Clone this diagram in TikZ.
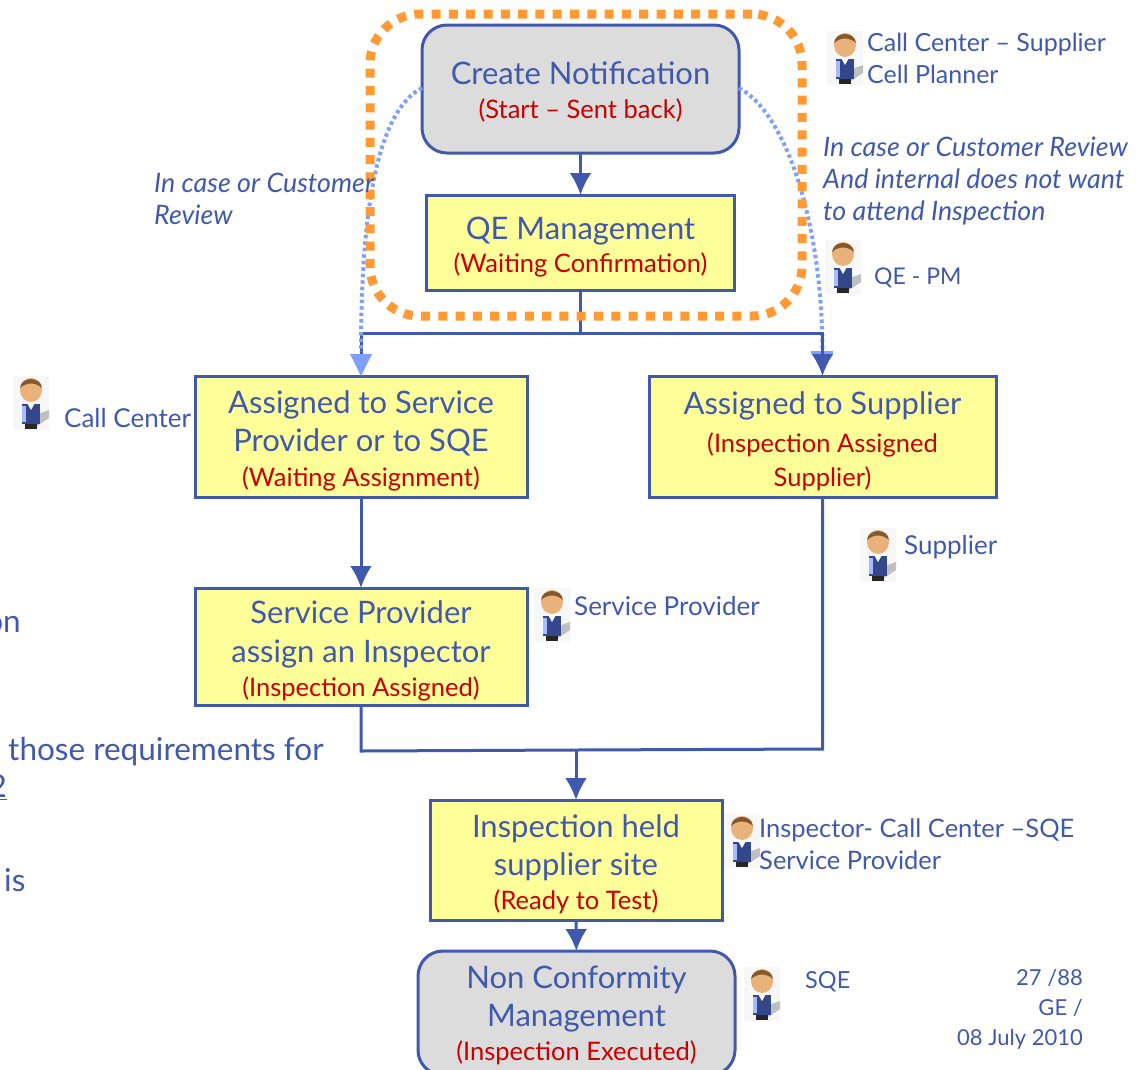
\documentclass[tikz,border=0pt]{standalone}
\usepackage{fontspec}
\setmainfont{Lato}
\usetikzlibrary{arrows.meta}
\definecolor{gedark}{HTML}{4059AD}
\definecolor{gelight}{HTML}{7F9FFF}
\definecolor{georange}{HTML}{FF9933}
\definecolor{gered}{HTML}{C80000}
\definecolor{geyellow}{HTML}{FFFF99}
\definecolor{gegrey}{HTML}{DCDCDC}
\newcommand{\redline}[1]{{\fontsize{25.5}{37}\selectfont\color{gered}#1}}
\newcommand{\topgap}[1][32pt]{\rule{0pt}{#1}}
\begin{document}
\begin{tikzpicture}[x=1pt, y=-1pt, >={Latex[length=22pt,width=22pt]},
  flowbox/.style={draw=gedark, line width=3pt, text=gedark, align=center, outer sep=0pt, inner sep=0pt,
    font=\fontsize{31}{37}\selectfont},
  yellowbox/.style={flowbox, fill=geyellow},
  greybox/.style={flowbox, fill=gegrey, rounded corners=25pt},
  link/.style={draw=gedark, line width=3pt},
  dots/.style={draw=gelight, line width=4pt, dash pattern=on 3.5pt off 3pt},
  role/.style={text=gedark, align=left, anchor=west, inner sep=0pt, font=\fontsize{26}{32}\selectfont},
  note/.style={role, font=\fontsize{26.8}{32}\selectfont\itshape},
  cut/.style={role, font=\fontsize{31.5}{32}\selectfont},
  person/.pic={
    \fill[black!3] (0,0) rectangle (36,54);
    \fill[black!25] (25,38) -- (36,34) -- (36,42) -- (24,50) -- cycle;
    \fill[black!85] (12,46) rectangle (24,53);
    \fill[gedark!80!black] (9,28) rectangle (27,48);
    \fill[gelight!70!white] (9,30) rectangle (13,46);
    \fill[white] (13,25) -- (23,25) -- (18,34) -- cycle;
    \fill[orange!45!brown!60] (18,14) ellipse (11pt and 12pt);
    \fill[brown!70!black] (7,12) .. controls (8,0) and (28,0) .. (29,12) .. controls (22,6) and (14,6) .. cycle;
  }]
\useasboundingbox (0,0) rectangle (1146,1069);
%persons
\foreach \px/\py in {827/31,825/240,13/376,860/528,534/588,724/814,744/967}
  \pic at (\px,\py) {person};
%boxes
\node[greybox, minimum width=317pt, minimum height=128pt] (create) at (580.5,89) {\topgap[28pt]Create Notification\\[-3pt] \redline{(Start – Sent back)}};
\node[yellowbox, minimum width=308pt, minimum height=95pt] (qe) at (580.5,242.5) {\topgap QE Management\\[-4pt] \redline{(Waiting Confirmation)}};
\node[yellowbox, minimum width=332pt, minimum height=121pt] (assignsp) at (361,436.5) {\topgap Assigned to Service\\[1pt] Provider or to SQE\\[-2pt] \redline{(Waiting Assignment)}};
\node[yellowbox, minimum width=347pt, minimum height=121pt] (assignsup) at (822.5,436.5) {\topgap Assigned to Supplier\\[1pt] \redline{(Inspection Assigned}\\[-3pt] \redline{Supplier)}};
\node[yellowbox, minimum width=332pt, minimum height=117pt] (provider) at (361,646.5) {\topgap Service Provider\\[2pt] assign an Inspector\\[-3pt] \redline{(Inspection Assigned)}};
\node[yellowbox, minimum width=292pt, minimum height=120pt] (held) at (576,860) {\topgap Inspection held\\[1pt] supplier site\\[-3pt] \redline{(Ready to Test)}};
\node[greybox, minimum width=317pt, minimum height=124pt] (nonconf) at (576.5,1013) {\topgap[27pt]Non Conformity\\[1pt] Management\\[-3pt] \redline{(Inspection Executed)}};
%connector points
\coordinate (fork) at (qe.south |- 0,333);
\coordinate (forkl) at (assignsp.north |- fork);
\coordinate (forkr) at (assignsup.north |- fork);
\coordinate (joinl) at (provider.south |- 0,751);
\coordinate (joinr) at (assignsup.south |- 0,749);
\coordinate (joinm) at (held.north |- 0,750);
\coordinate (dotl) at (create.west |- 0,88);
\coordinate (dotr) at (create.east |- 0,88);
\coordinate (dotle) at (assignsp.north |- 0,352);
\coordinate (dotre) at (assignsup.north |- 0,352);
%right dotted line under the dark links
\draw[dots] (dotr) .. controls (785,112) and (822,220) .. (dotre);
\fill[gelight] (811,351) rectangle (833,354);
%links
\draw[link, ->] (create) -- (qe);
\draw[link] (qe) -- (fork);
\draw[link, ->] (forkl) -- (forkr) -- (assignsup);
\draw[link, ->] (fork) -- (forkl) -- (assignsp);
\draw[link, ->] (assignsp) -- (provider);
\draw[link] (provider) -- (joinl) -- (joinm);
\draw[link] (assignsup) -- (joinr) -- (joinm);
\draw[link, ->] (joinm) -- (held);
\draw[link, ->] (held) -- (nonconf);
%left dotted line
\draw[dots] (dotl) .. controls (375,112) and (361,220) .. (dotle);
\fill[gelight] (assignsp.north) -- ++(-11,-22) -- ++(22,0) -- cycle;
%orange frame
\node[draw=georange, line width=9pt, dash pattern=on 9pt off 8.3pt, rounded corners=50pt,
  minimum width=432pt, minimum height=302pt, inner sep=0pt] (frame) at (586,165) {};
%labels
\node[role, font=\fontsize{25}{32}\selectfont] (rolecreate) at (867,58) {Call Center – Supplier\\ Cell Planner};
\node[note] (noteright) at (823,181) {In case or Customer Review\\ And internal does not want\\ to attend Inspection};
\node[note] (noteleft) at (154,199) {In case or Customer\\ Review};
\node[role, font=\fontsize{23}{32}\selectfont] (roleqe) at (874,278) {QE - PM};
\node[role] (rolecall) at (64,418) {Call Center};
\node[role] (rolesup) at (904,547) {Supplier};
\node[role] (roleprov) at (574,606) {Service Provider};
\node[role, font=\fontsize{25.5}{32}\selectfont] (roleinsp) at (759,844) {Inspector- Call Center –SQE\\ Service Provider};
\node[role, font=\fontsize{23.5}{32}\selectfont] (rolesqe) at (805,982) {SQE};
\node[role, align=right, anchor=east, font=\fontsize{22}{30}\selectfont] (page) at (1083,1009) {27 /88\\ GE /\\ 08 July 2010};
%cut off text at the left
\node[cut, anchor=east] (cutone) at (1,137) {o};
\node[cut, anchor=east] (cuttwo) at (21,624) {on};
\node[cut] (cutthree) at (8,752) {those requirements for};
\node[cut, anchor=east] (cutfour) at (7,787) {\underline{2}};
\node[cut] (cutfive) at (4,880) {is};
\end{tikzpicture}
\end{document}
